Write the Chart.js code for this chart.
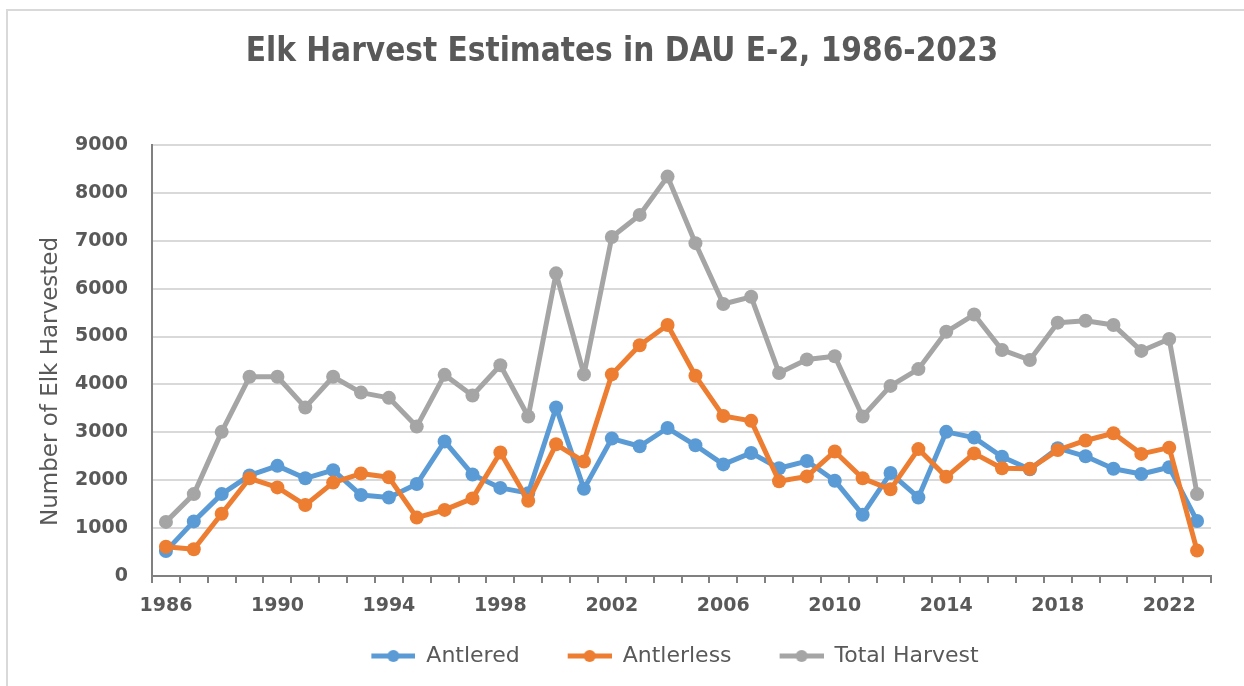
<!DOCTYPE html>
<html>
<head>
<meta charset="utf-8">
<script src="https://cdn.jsdelivr.net/npm/chart.js@4.4.0/dist/chart.umd.min.js"></script>
<style>
  html, body { margin: 0; padding: 0; background: #ffffff; }
  #wrap { width: 1244px; height: 686px; position: relative; }
</style>
</head>
<body>
<div id="wrap"><canvas id="c" width="1244" height="686"></canvas></div>
<script>
// ---- data ----
const years = ['1986','1987','1988','1989','1990','1991','1992','1993','1994','1995',
               '1996','1997','1998','1999','2000','2001','2002','2003','2004','2005',
               '2006','2007','2008','2009','2010','2011','2012','2013','2014','2015',
               '2016','2017','2018','2019','2020','2021','2022','2023'];
const antlered = [520,1140,1710,2100,2300,2040,2210,1690,1640,1920,
                  2810,2120,1840,1730,3520,1820,2870,2710,3090,2730,
                  2330,2570,2250,2400,1990,1280,2150,1640,3010,2890,
                  2490,2230,2670,2500,2240,2130,2270,1150];
const antlerless = [610,560,1300,2040,1850,1480,1950,2140,2060,1220,
                    1380,1620,2580,1570,2750,2390,4210,4820,5240,4180,
                    3340,3240,1980,2080,2600,2040,1810,2650,2070,2560,
                    2250,2240,2630,2830,2980,2550,2680,530];
const totalHarvest = [1130,1710,3010,4160,4160,3520,4160,3830,3720,3120,
                      4200,3770,4400,3330,6320,4210,7080,7540,8340,6950,
                      5680,5830,4240,4520,4590,3330,3970,4320,5100,5460,
                      4720,4510,5290,5330,5240,4700,4950,1710];
const shownYearLabels = ['1986','1990','1994','1998','2002','2006','2010','2014','2018','2022'];
const seriesNames = ['Antlered','Antlerless','Total Harvest'];
const seriesColors = ['#5B9BD5','#ED7D31','#A5A5A5'];

// ---- legend marker images (line with dot) ----
const LEG_BLANK = 38, LEG_MARK = 44, LEG_H = 16;
function makeMarker(color) {
  const c = document.createElement('canvas');
  c.width = LEG_BLANK + LEG_MARK; c.height = LEG_H;
  const g = c.getContext('2d');
  g.strokeStyle = color; g.lineWidth = 5; g.lineCap = 'butt';
  g.beginPath(); g.moveTo(LEG_BLANK, LEG_H/2); g.lineTo(LEG_BLANK + LEG_MARK, LEG_H/2); g.stroke();
  g.fillStyle = color;
  g.beginPath(); g.arc(LEG_BLANK + LEG_MARK/2, LEG_H/2, 6, 0, Math.PI*2); g.fill();
  return c;
}
const markers = seriesColors.map(makeMarker);

const framePlugin = {
  id: 'frame',
  beforeDraw(chart) {
    const ctx = chart.ctx;
    ctx.save();
    ctx.fillStyle = '#ffffff';
    ctx.fillRect(0, 0, chart.width, chart.height);
    ctx.strokeStyle = '#d9d9d9';
    ctx.lineWidth = 2;
    ctx.beginPath();
    ctx.moveTo(7, chart.height);
    ctx.lineTo(7, 10);
    ctx.lineTo(chart.width, 10);
    ctx.stroke();
    ctx.restore();
  }
};
const layoutTweaks = {
  id: 'layoutTweaks',
  afterLayout(chart) {
    const l = chart.legend;
    if (l) { l.left += 34; l.right += 34; }
    const s = chart.scales.y;
    if (s && !s._titlePatched) {
      const orig = s.drawTitle.bind(s);
      s.drawTitle = function () {
        const t = this.top, b = this.bottom;
        this.top = t + 21; this.bottom = b + 21;
        orig();
        this.top = t; this.bottom = b;
      };
      s._titlePatched = true;
    }
  }
};

const tickFont = { family: 'DejaVu Sans', size: 19, weight: 'bold' };

new Chart(document.getElementById('c'), {
  type: 'line',
  data: {
    labels: years,
    datasets: [
      { label: seriesNames[0], data: antlered, borderColor: seriesColors[0], backgroundColor: seriesColors[0], order: 3 },
      { label: seriesNames[1], data: antlerless, borderColor: seriesColors[1], backgroundColor: seriesColors[1], order: 2 },
      { label: seriesNames[2], data: totalHarvest, borderColor: seriesColors[2], backgroundColor: seriesColors[2], order: 1 }
    ]
  },
  options: {
    responsive: false,
    animation: false,
    events: [],
    layout: { padding: { left: 33, right: 33, top: 10, bottom: 9 } },
    elements: {
      line: { borderWidth: 5, tension: 0, borderJoinStyle: 'round' },
      point: { radius: 7, borderWidth: 0, hoverRadius: 7 }
    },
    plugins: {
      title: {
        display: true,
        text: 'Elk Harvest Estimates in DAU E-2, 1986-2023',
        color: '#595959',
        font: { family: 'DejaVu Sans Condensed', size: 33, weight: 'bold' },
        padding: { top: 23, bottom: 72.4 }
      },
      legend: {
        position: 'bottom',
        labels: {
          usePointStyle: true,
          pointStyleWidth: LEG_BLANK + LEG_MARK,
          color: '#595959',
          font: { family: 'DejaVu Sans', size: 22 },
          padding: 10,
          sort: (a, b) => a.datasetIndex - b.datasetIndex,
          generateLabels(chart) {
            const items = Chart.defaults.plugins.legend.labels.generateLabels(chart);
            items.forEach(it => { it.pointStyle = markers[it.datasetIndex]; });
            return items;
          }
        }
      },
      tooltip: { enabled: false }
    },
    scales: {
      x: {
        offset: true,
        grid: { offset: true, drawOnChartArea: false, drawTicks: true, tickLength: 7, color: '#808080', lineWidth: 2 },
        border: { display: true, color: '#808080', width: 2 },
        ticks: {
          autoSkip: false, maxRotation: 0, minRotation: 0, padding: 12,
          color: '#595959', font: tickFont,
          callback(v, i) { const y = years[i]; return shownYearLabels.includes(y) ? y : ''; }
        },
        afterFit(s) { s.height = 59; }
      },
      y: {
        min: 0, max: 9000,
        ticks: { stepSize: 1000, color: '#595959', font: tickFont, padding: 24,
                 callback(v) { return String(v); } },
        grid: { color: '#d9d9d9', lineWidth: 2, drawTicks: false },
        border: { display: true, color: '#808080', width: 2 },
        title: {
          display: true, text: 'Number of Elk Harvested', color: '#595959',
          font: { family: 'DejaVu Sans', size: 23 }
        },
        afterFit(s) { s.width = 119; }
      }
    }
  },
  plugins: [framePlugin, layoutTweaks]
});
</script>
</body>
</html>
